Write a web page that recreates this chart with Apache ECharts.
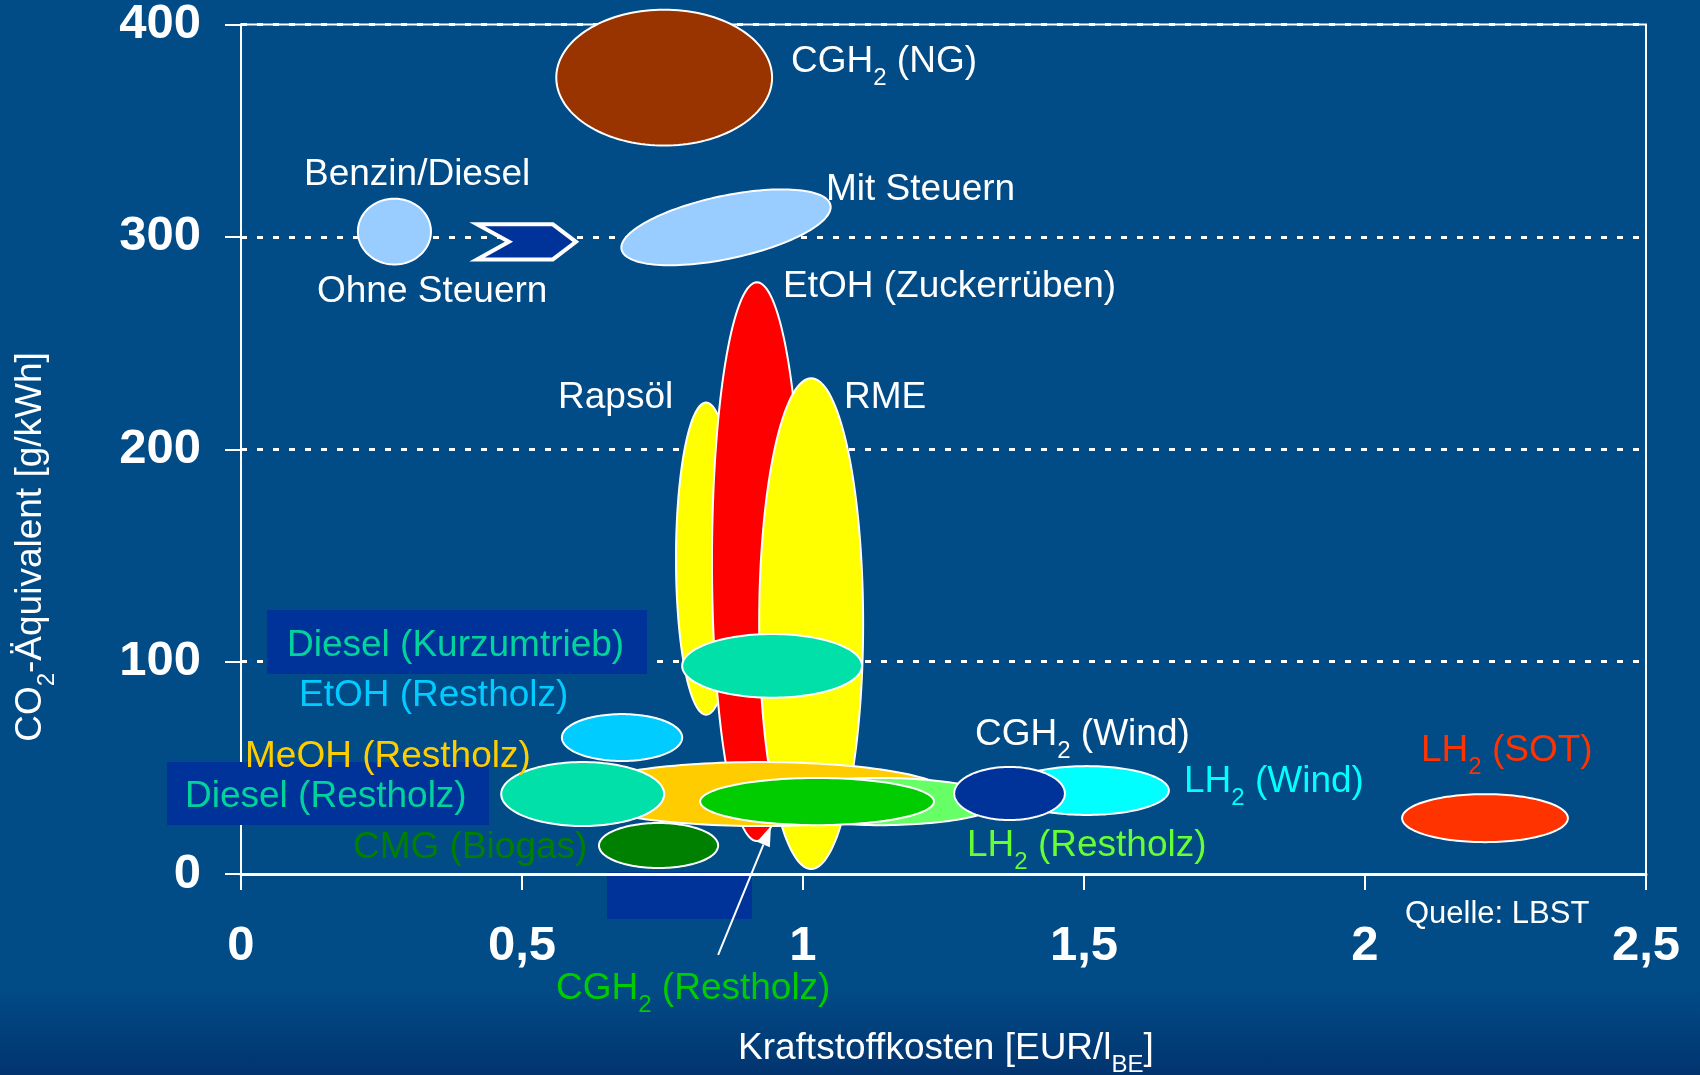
<!DOCTYPE html>
<html>
<head>
<meta charset="utf-8">
<title>Kraftstoffkosten und CO2-Äquivalent</title>
<script src="https://cdn.jsdelivr.net/npm/echarts@6/dist/echarts.min.js"></script>
<style>
html, body { margin: 0; padding: 0; }
#chart {
    width: 1700px;
    height: 1075px;
    background: linear-gradient(to bottom, #014b87 0%, #014b87 92%, #02346f 100%);
}
</style>
</head>
<body>
<div id="chart"></div>
<script>
// fuel paths: cost range [EUR/l BE] and CO2-equivalent range [g/kWh]
var fuelNames = ['CGH2 (NG)', 'Benzin/Diesel', 'Benzin/Diesel mit Steuern', 'Rapsöl', 'EtOH (Zuckerrüben)', 'RME',
    'Diesel (Kurzumtrieb)', 'EtOH (Restholz)', 'MeOH (Restholz)', 'LH2 (Restholz)', 'Diesel (Restholz)',
    'CMG (Biogas)', 'CGH2 (Restholz)', 'LH2 (Wind)', 'CGH2 (Wind)', 'LH2 (SOT)'];
var costMin = [0.561, 0.208, 0.673, 0.774, 0.838, 0.922, 0.785, 0.571, 0.592, 0.923, 0.463, 0.637, 0.817, 1.359, 1.269, 2.066];
var costMax = [0.945, 0.338, 1.053, 0.881, 0.998, 1.107, 1.105, 0.785, 1.258, 1.351, 0.753, 0.849, 1.233, 1.651, 1.466, 2.361];
var co2Min = [343, 287, 289.7, 75, 15.5, 2.4, 83, 53.2, 22.6, 23, 22.6, 2.8, 23, 27.8, 25.4, 15];
var co2Max = [407, 318, 319.3, 222, 278.6, 233.4, 113, 75.3, 52.7, 45.2, 52.7, 24, 45.2, 50.8, 50.4, 37.6];

// "ohne Steuern" -> "mit Steuern" chevron: cost from/to, co2 from/to
var chevron = [[0.42, 0.596, 289.4, 305.9]];
// pointer from the CGH2 (Restholz) label to its ellipse
var pointer = [[0.849, -38.1, 0.943, 22.6]];

var fillColors = ['#993300', '#99ccff', '#99ccff', '#ffff00', '#ff0000', '#ffff00', '#00e0a8', '#00ccff',
    '#ffcc00', '#66ff66', '#00e0a8', '#008000', '#00cc00', '#00ffff', '#003399', '#ff3300'];
var tiltDeg = [0, 0, 12, 0, 0, 0, 0, 0, 0, 0, 0, 0, 0, 0, 0, 0];

var FONT = '"Liberation Sans", Arial, sans-serif';
var TEAL_TEXT = '#00d49c';

var fuelData = fuelNames.map(function (n, i) {
    return { name: n, value: [costMin[i], costMax[i], co2Min[i], co2Max[i]] };
});

function renderEllipse(params, api) {
    var i = params.dataIndex;
    var c = api.coord([(api.value(0) + api.value(1)) / 2, (api.value(2) + api.value(3)) / 2]);
    var s = api.size([api.value(1) - api.value(0), api.value(3) - api.value(2)]);
    var rx = s[0] / 2;
    var ry = s[1] / 2;
    var th = tiltDeg[i] * Math.PI / 180;
    var pts = [];
    for (var k = 0; k < 144; k++) {
        var t = k / 144 * Math.PI * 2;
        var ex = rx * Math.cos(t);
        var ey = ry * Math.sin(t);
        pts.push([c[0] + ex * Math.cos(th) - ey * Math.sin(th), c[1] - (ex * Math.sin(th) + ey * Math.cos(th))]);
    }
    return {
        type: 'polygon',
        shape: { points: pts },
        style: { fill: fillColors[i], stroke: '#fff', lineWidth: 2 }
    };
}

function renderChevron(params, api) {
    var l = api.coord([api.value(0), api.value(3)]);
    var r = api.coord([api.value(1), api.value(2)]);
    var h = r[1] - l[1];
    var mid = (l[1] + r[1]) / 2;
    var tip = h * 0.66;
    var notch = h * 0.91;
    return {
        type: 'polygon',
        shape: {
            points: [[l[0], l[1]], [r[0] - tip, l[1]], [r[0], mid], [r[0] - tip, r[1]], [l[0], r[1]], [l[0] + notch, mid]]
        },
        style: { fill: '#003399', stroke: '#fff', lineWidth: 4, lineJoin: 'miter' }
    };
}

function renderPointer(params, api) {
    var p0 = api.coord([api.value(0), api.value(1)]);
    var p1 = api.coord([api.value(2), api.value(3)]);
    var ang = Math.atan2(p1[1] - p0[1], p1[0] - p0[0]);
    var len = 20;
    var half = 7;
    var bx = p1[0] - len * Math.cos(ang);
    var by = p1[1] - len * Math.sin(ang);
    return {
        type: 'group',
        children: [{
            type: 'line',
            shape: { x1: p0[0], y1: p0[1], x2: bx, y2: by },
            style: { stroke: '#fff', lineWidth: 2 }
        }, {
            type: 'polygon',
            shape: {
                points: [p1, [bx + half * Math.sin(ang), by - half * Math.cos(ang)], [bx - half * Math.sin(ang), by + half * Math.cos(ang)]]
            },
            style: { fill: '#fff' }
        }]
    };
}

var richStyles = {
    m: { fontSize: 37, lineHeight: 56, fontFamily: FONT },
    s: { fontSize: 24, lineHeight: 24, fontFamily: FONT, verticalAlign: 'bottom' }
};

var labels = [
    ['{m|CGH}{s|2}{m| (NG)}', 791, 62, '#fff'],
    ['{m|Benzin/Diesel}', 304, 175, '#fff'],
    ['{m|Ohne Steuern}', 317, 292, '#fff'],
    ['{m|Mit Steuern}', 826, 190, '#fff'],
    ['{m|EtOH (Zuckerrüben)}', 783, 287, '#fff'],
    ['{m|Rapsöl}', 558, 398, '#fff'],
    ['{m|RME}', 844, 398, '#fff'],
    ['{m|Diesel (Kurzumtrieb)}', 287, 646, TEAL_TEXT],
    ['{m|EtOH (Restholz)}', 299, 696, '#00ccff'],
    ['{m|MeOH (Restholz)}', 245, 757, '#ffcc00'],
    ['{m|Diesel (Restholz)}', 185, 797, TEAL_TEXT],
    ['{m|CMG (Biogas)}', 353, 848, '#008000'],
    ['{m|CGH}{s|2}{m| (Restholz)}', 556, 989, '#00cc00'],
    ['{m|CGH}{s|2}{m| (Wind)}', 975, 735, '#fff'],
    ['{m|LH}{s|2}{m| (Wind)}', 1184, 782, '#00ffff'],
    ['{m|LH}{s|2}{m| (Restholz)}', 967, 846, '#66ff33'],
    ['{m|LH}{s|2}{m| (SOT)}', 1421, 751, '#ff3300']
];

var graphics = [
    { type: 'rect', z: 1, shape: { x: 267, y: 610, width: 380, height: 64 }, style: { fill: '#003399' } },
    { type: 'rect', z: 1, shape: { x: 167, y: 762, width: 322, height: 63 }, style: { fill: '#003399' } },
    { type: 'rect', z: -1, shape: { x: 607, y: 872, width: 145, height: 47 }, style: { fill: '#003399' } }
];
labels.forEach(function (l) {
    graphics.push({
        type: 'text', x: l[1], y: l[2], z: 10,
        style: { text: l[0], rich: richStyles, fill: l[3], align: 'left', verticalAlign: 'middle' }
    });
});
graphics.push({
    type: 'text', x: 31, y: 547, z: 10, rotation: Math.PI / 2,
    style: { text: '{m|CO}{s|2}{m|-Äquivalent [g/kWh]}', rich: richStyles, fill: '#fff', align: 'center', verticalAlign: 'middle' }
});
graphics.push({
    type: 'text', x: 738, y: 1049, z: 10,
    style: { text: '{m|Kraftstoffkosten [EUR/l}{s|BE}{m|]}', rich: richStyles, fill: '#fff', align: 'left', verticalAlign: 'middle' }
});
graphics.push({
    type: 'text', x: 1405, y: 914, z: 10,
    style: { text: 'Quelle: LBST', fill: '#fff', font: '31px ' + FONT, align: 'left', verticalAlign: 'middle' }
});

var chart = echarts.init(document.getElementById('chart'), null, { renderer: 'canvas' });
chart.setOption({
    backgroundColor: 'transparent',
    animation: false,
    grid: { left: 241, right: 54, top: 24, bottom: 201, show: true, borderColor: '#fff', borderWidth: 2, backgroundColor: 'transparent' },
    xAxis: {
        type: 'value', min: 0, max: 2.5, interval: 0.5,
        axisLine: { show: true, lineStyle: { color: '#fff', width: 3 } },
        axisTick: { show: true, length: 16, lineStyle: { color: '#fff', width: 2 } },
        axisLabel: {
            color: '#fff', fontSize: 49, fontWeight: 'bold', fontFamily: FONT, margin: 48,
            formatter: function (v) { return String(v).replace('.', ','); }
        },
        splitLine: { show: false }
    },
    yAxis: {
        type: 'value', min: 0, max: 400, interval: 100,
        axisLine: { show: true, lineStyle: { color: '#fff', width: 2 } },
        axisTick: { show: true, length: 16, lineStyle: { color: '#fff', width: 2 } },
        axisLabel: { color: '#fff', fontSize: 49, fontWeight: 'bold', fontFamily: FONT, margin: 40, padding: [5, 0, 0, 0] },
        splitLine: { show: true, lineStyle: { color: '#fff', width: 3, type: [6, 10] } }
    },
    graphic: graphics,
    series: [{
        type: 'custom', name: 'Kraftstoffe', clip: false,
        renderItem: renderEllipse,
        encode: { x: [0, 1], y: [2, 3] },
        data: fuelData
    }, {
        type: 'custom', name: 'Steuern', clip: false,
        renderItem: renderChevron,
        encode: { x: [0, 1], y: [2, 3] },
        data: chevron
    }, {
        type: 'custom', name: 'Zeiger', clip: false, z: 5,
        renderItem: renderPointer,
        encode: { x: [0, 2], y: [1, 3] },
        data: pointer
    }]
});
</script>
</body>
</html>
